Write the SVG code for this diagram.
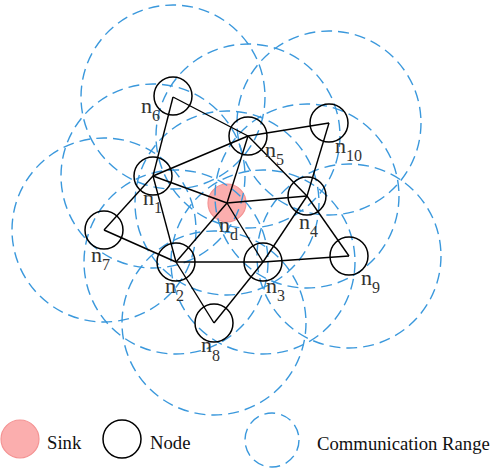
<svg xmlns="http://www.w3.org/2000/svg" width="490" height="475" viewBox="0 0 490 475">
<style>
.range{fill:none;stroke:#3a98dc;stroke-width:1.4;stroke-dasharray:11,6}
.node{fill:none;stroke:#000;stroke-width:1.5}
.sink{fill:#fbaeae;stroke:#f49494;stroke-width:1.2}
.edge{stroke:#000;stroke-width:1.4;fill:none}
.lbl{font-family:"Liberation Serif","Times New Roman",serif;font-size:22px;fill:#333}
.sub{font-size:16px}
.leg{font-family:"Liberation Serif","Times New Roman",serif;font-size:18.7px;fill:#111}
</style>
<rect width="490" height="475" fill="#fff"/>
<circle class="sink" cx="227" cy="203" r="19"/>
<g id="ranges">
<circle class="range" cx="173" cy="97" r="92"/>
<circle class="range" cx="153" cy="176" r="92"/>
<circle class="range" cx="248" cy="136" r="92"/>
<circle class="range" cx="329" cy="123" r="92"/>
<circle class="range" cx="307" cy="196" r="92"/>
<circle class="range" cx="227" cy="203" r="92"/>
<circle class="range" cx="104" cy="230" r="92"/>
<circle class="range" cx="176" cy="262" r="92"/>
<circle class="range" cx="263" cy="262" r="92"/>
<circle class="range" cx="349" cy="256" r="92"/>
<circle class="range" cx="214" cy="323" r="92"/>
</g>
<g id="connectors">
<line class="edge" x1="173" y1="97" x2="153" y2="176"/>
<line class="edge" x1="173" y1="97" x2="248" y2="136"/>
<line class="edge" x1="153" y1="176" x2="248" y2="136"/>
<line class="edge" x1="153" y1="176" x2="227" y2="203"/>
<line class="edge" x1="153" y1="176" x2="104" y2="230"/>
<line class="edge" x1="153" y1="176" x2="176" y2="262"/>
<line class="edge" x1="248" y1="136" x2="329" y2="123"/>
<line class="edge" x1="248" y1="136" x2="307" y2="196"/>
<line class="edge" x1="248" y1="136" x2="227" y2="203"/>
<line class="edge" x1="329" y1="123" x2="307" y2="196"/>
<line class="edge" x1="307" y1="196" x2="227" y2="203"/>
<line class="edge" x1="307" y1="196" x2="349" y2="256"/>
<line class="edge" x1="307" y1="196" x2="263" y2="262"/>
<line class="edge" x1="227" y1="203" x2="176" y2="262"/>
<line class="edge" x1="227" y1="203" x2="263" y2="262"/>
<line class="edge" x1="104" y1="230" x2="176" y2="262"/>
<line class="edge" x1="176" y1="262" x2="263" y2="262"/>
<line class="edge" x1="176" y1="262" x2="214" y2="323"/>
<line class="edge" x1="214" y1="323" x2="263" y2="262"/>
<line class="edge" x1="263" y1="262" x2="349" y2="256"/>
</g>
<g id="nd"><text class="lbl" x="219" y="232">n<tspan class="sub" dy="8">d</tspan></text></g>
<g id="n1"><circle class="node" cx="153" cy="176" r="19"/><text class="lbl" x="143" y="205">n<tspan class="sub" dy="8">1</tspan></text></g>
<g id="n2"><circle class="node" cx="176" cy="262" r="19"/><text class="lbl" x="165" y="293">n<tspan class="sub" dy="8">2</tspan></text></g>
<g id="n3"><circle class="node" cx="263" cy="262" r="19"/><text class="lbl" x="266" y="293">n<tspan class="sub" dy="8">3</tspan></text></g>
<g id="n4"><circle class="node" cx="307" cy="196" r="19"/><text class="lbl" x="299" y="229">n<tspan class="sub" dy="8">4</tspan></text></g>
<g id="n5"><circle class="node" cx="248" cy="136" r="19"/><text class="lbl" x="265" y="157">n<tspan class="sub" dy="8">5</tspan></text></g>
<g id="n6"><circle class="node" cx="173" cy="96" r="19"/><text class="lbl" x="141" y="113">n<tspan class="sub" dy="8">6</tspan></text></g>
<g id="n7"><circle class="node" cx="104" cy="230" r="19"/><text class="lbl" x="91" y="262">n<tspan class="sub" dy="8">7</tspan></text></g>
<g id="n8"><circle class="node" cx="214" cy="323" r="19"/><text class="lbl" x="201" y="352">n<tspan class="sub" dy="9">8</tspan></text></g>
<g id="n9"><circle class="node" cx="349" cy="256" r="19"/><text class="lbl" x="361" y="285">n<tspan class="sub" dy="8">9</tspan></text></g>
<g id="n10"><circle class="node" cx="329" cy="123" r="19"/><text class="lbl" x="335" y="153">n<tspan class="sub" dy="8">10</tspan></text></g>
<g id="legend">
<circle class="sink" cx="20" cy="439" r="19"/>
<text class="leg" x="47" y="449">Sink</text>
<circle class="node" cx="122" cy="439" r="19"/>
<text class="leg" x="150" y="449">Node</text>
<circle class="range" cx="272" cy="440" r="27"/>
<text class="leg" x="317" y="450">Communication Range</text>
</g>
</svg>
